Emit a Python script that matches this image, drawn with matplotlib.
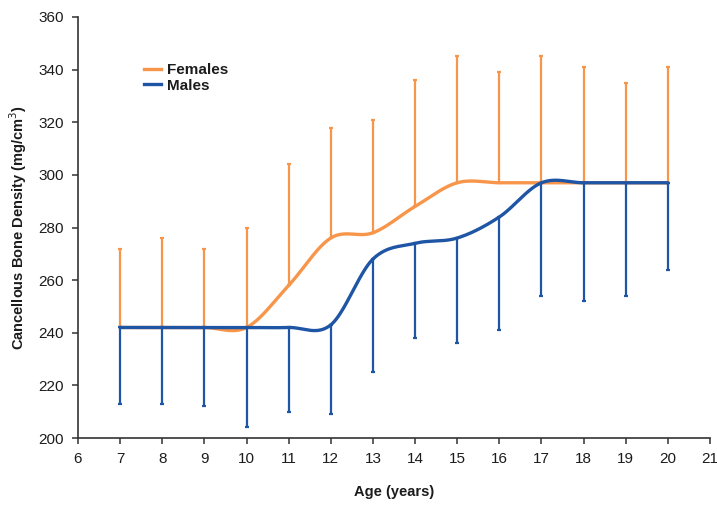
import numpy as np
import matplotlib
matplotlib.use("Agg")
import matplotlib.pyplot as plt
from matplotlib.lines import Line2D

ages = [7, 8, 9, 10, 11, 12, 13, 14, 15, 16, 17, 18, 19, 20]
female_mean = [242, 242, 242, 242, 258, 276, 278, 288, 297, 297, 297, 297, 297, 297]
female_upper = [272, 276, 272, 280, 304, 318, 321, 336, 345, 339, 345, 341, 335, 341]
male_mean = [242, 242, 242, 242, 242, 243, 268, 274, 276, 284, 297, 297, 297, 297]
male_lower = [213, 213, 212, 204, 210, 209, 225, 238, 236, 241, 254, 252, 254, 264]
xticks = list(range(6, 22))
yticks = list(range(200, 361, 20))

ORANGE = "#F7954A"
BLUE = "#1F55A5"
TEXT = "#1c1c1c"

plt.rcParams['font.family'] = ['Liberation Sans', 'DejaVu Sans']


def smooth(x, y, n=40):
    """Catmull-Rom style Bezier smoothing (like spreadsheet smoothed lines)."""
    x = np.asarray(x, float)
    y = np.asarray(y, float)
    P = np.column_stack([x, y])
    out = []
    m = len(P)
    for i in range(m - 1):
        p0 = P[i - 1] if i > 0 else P[i]
        p1 = P[i]
        p2 = P[i + 1]
        p3 = P[i + 2] if i + 2 < m else P[i + 1]
        c1 = p1 + (p2 - p0) / 6.0
        c2 = p2 - (p3 - p1) / 6.0
        t = np.linspace(0, 1, n, endpoint=(i == m - 2))[:, None]
        seg = ((1 - t) ** 3) * p1 + 3 * ((1 - t) ** 2) * t * c1 + 3 * (1 - t) * t ** 2 * c2 + t ** 3 * p2
        out.append(seg)
    out = np.vstack(out)
    return out[:, 0], out[:, 1]


fig = plt.figure(figsize=(7.17, 5.08), dpi=100)
ax = fig.add_axes([78 / 717, 70 / 508, 632 / 717, 421 / 508])

fm = np.array(female_mean)
mm = np.array(male_mean)

# error bars: females upward only, males downward only
ax.errorbar(ages, fm, yerr=[np.zeros_like(fm), np.array(female_upper) - fm],
            fmt='none', ecolor=ORANGE, elinewidth=1.6, capsize=1.5, capthick=1.6, zorder=2)
fx, fy = smooth(ages, female_mean)
ax.plot(fx, fy, color=ORANGE, lw=2.4, zorder=3, solid_capstyle='round')

ax.errorbar(ages, mm, yerr=[mm - np.array(male_lower), np.zeros_like(mm)],
            fmt='none', ecolor=BLUE, elinewidth=1.6, capsize=1.5, capthick=1.6, zorder=4)
mx, my = smooth(ages, male_mean)
ax.plot(mx, my, color=BLUE, lw=2.4, zorder=5, solid_capstyle='round')

ax.set_xlim(6, 21)
ax.set_ylim(200, 360)
ax.set_xticks(xticks)
ax.set_yticks(yticks)
for s in ['top', 'right']:
    ax.spines[s].set_visible(False)
for s in ['left', 'bottom']:
    ax.spines[s].set_color('#333333')
    ax.spines[s].set_linewidth(1.2)
ax.tick_params(axis='both', direction='out', length=4, width=1.1, color='#333333',
               labelsize=11, labelcolor=TEXT, pad=6)

ax.set_xlabel("Age (years)", fontsize=10.5, fontweight='bold', color=TEXT, labelpad=14)
ax.set_ylabel("Cancellous Bone Density (mg/cm$^3$)", fontsize=10.5, fontweight='bold',
              color=TEXT, labelpad=7)

handles = [Line2D([0], [0], color=ORANGE, lw=2.4), Line2D([0], [0], color=BLUE, lw=2.4)]
leg = ax.legend(handles, ["Females", "Males"], loc='upper left',
                bbox_to_anchor=(60 / 632, 1 - 40 / 421), frameon=False,
                handlelength=1.1, handletextpad=0.4, labelspacing=0.1,
                prop={'size': 11, 'weight': 'bold'}, borderaxespad=0)
for t in leg.get_texts():
    t.set_color(TEXT)

fig.savefig("out.png", dpi=100)
